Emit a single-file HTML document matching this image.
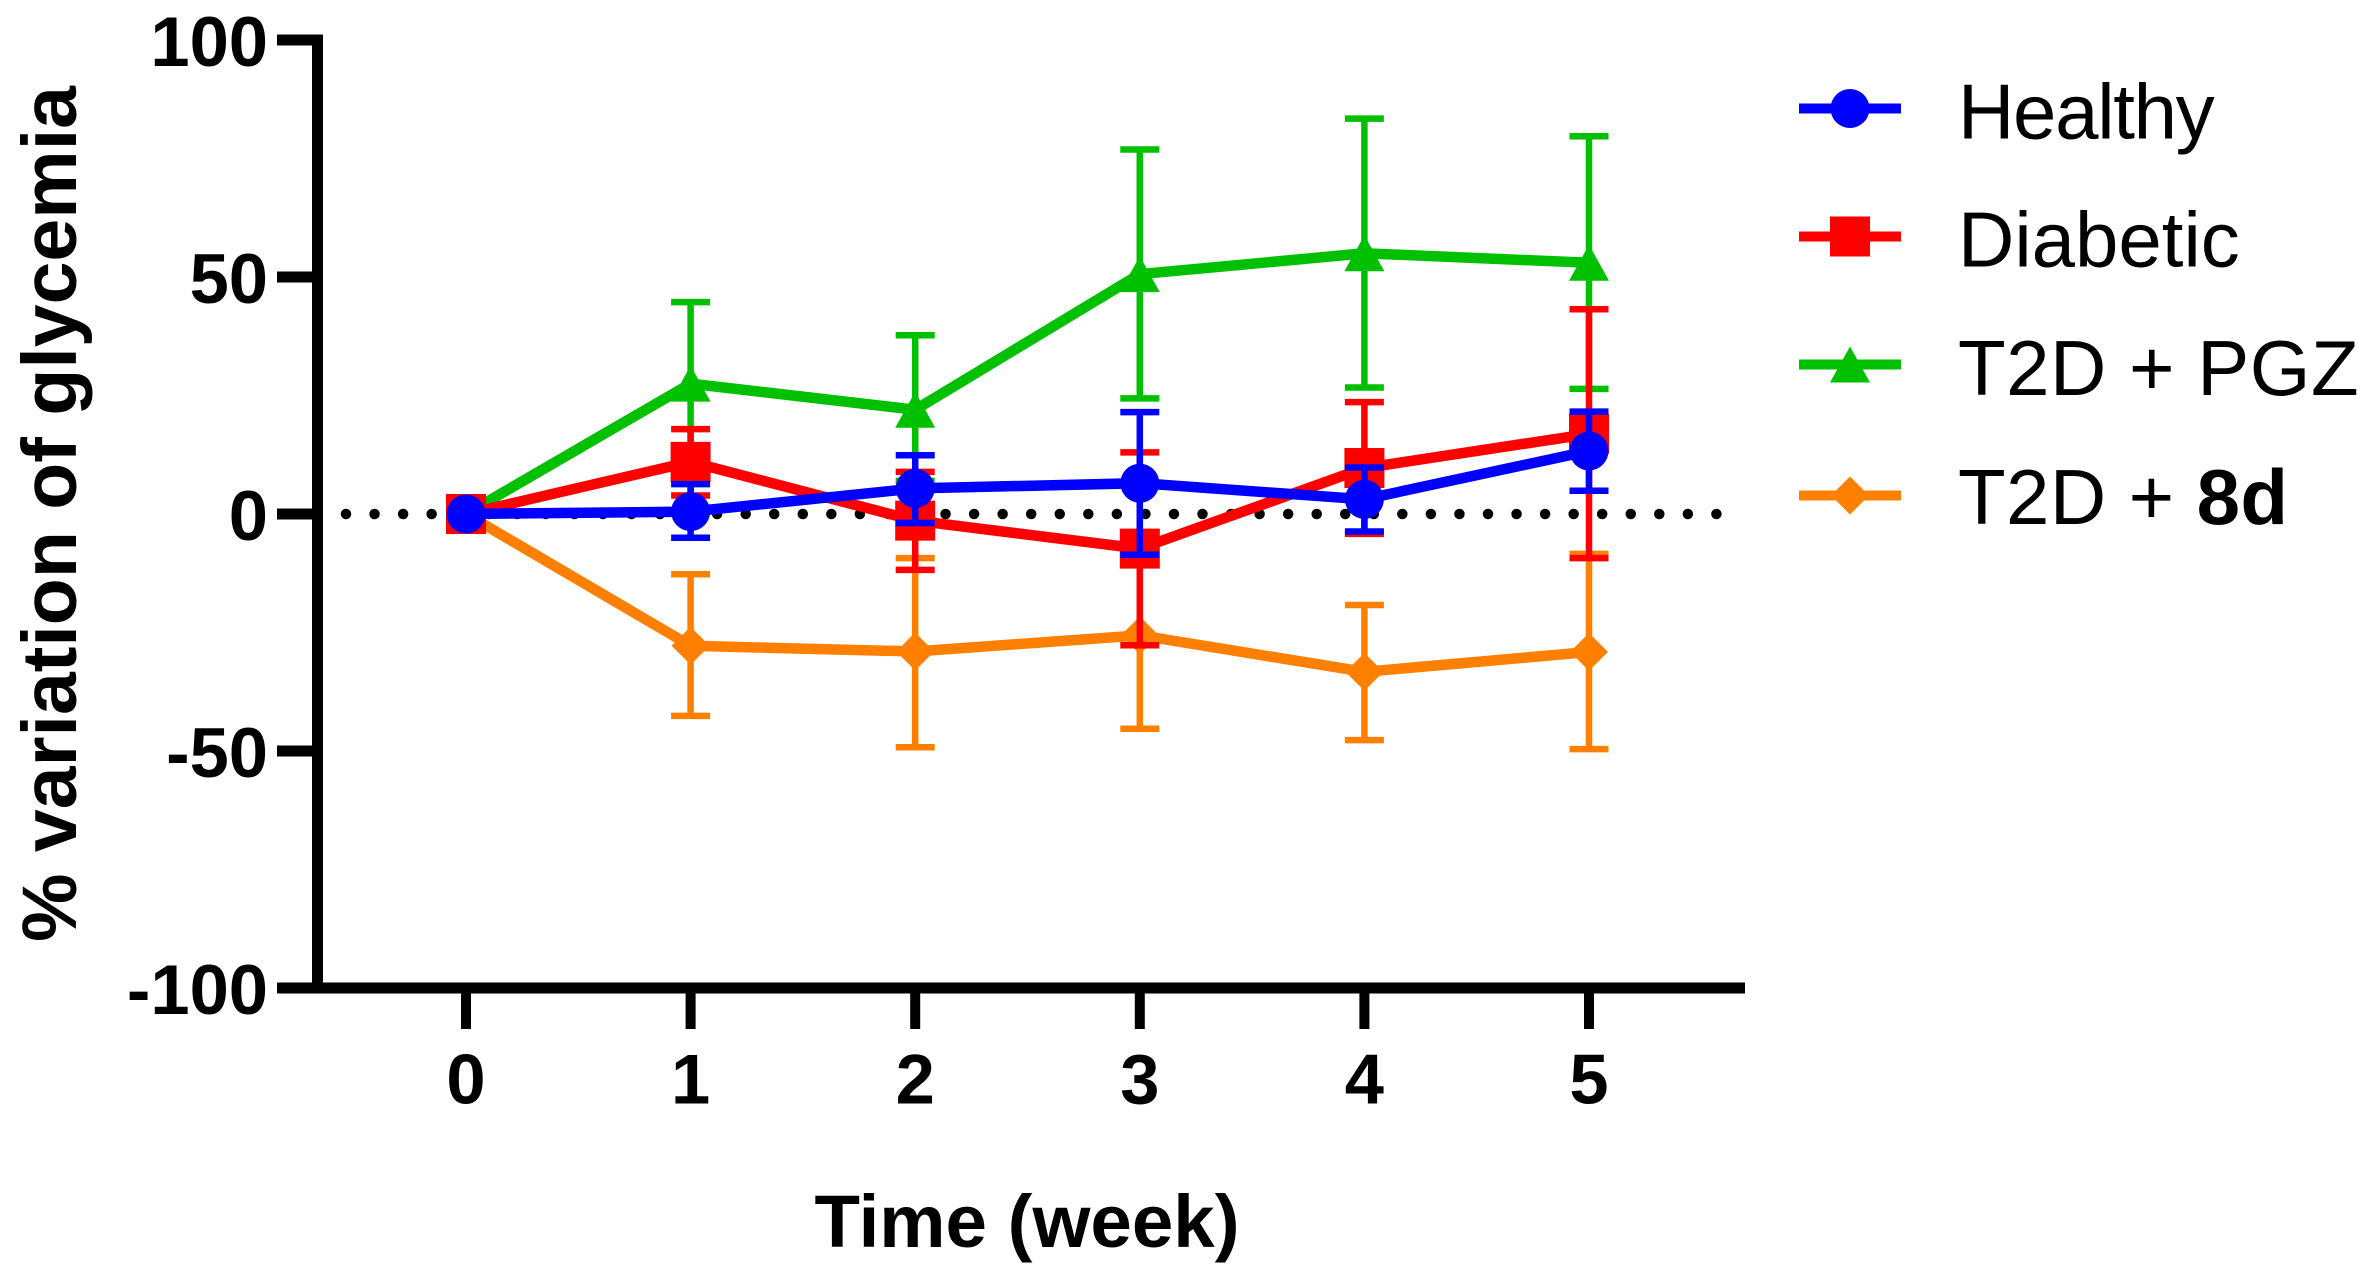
<!DOCTYPE html>
<html lang="en">
<head>
<meta charset="utf-8">
<title>% variation of glycemia over time</title>
<style>
  html, body { margin: 0; padding: 0; background: #ffffff; }
  body { width: 2373px; height: 1277px; overflow: hidden; }
  svg { display: block; }
  text { font-family: "Liberation Sans", Arial, sans-serif; fill: #000000; }
  .tick-label { font-weight: 700; font-size: 70.5px; }
  .axis-title { font-weight: 700; }
  .legend-label { font-size: 78px; font-weight: 400; }
</style>
</head>
<body>
<svg id="chart" xmlns="http://www.w3.org/2000/svg" width="2373" height="1277" viewBox="0 0 2373 1277">
  <rect x="0" y="0" width="2373" height="1277" fill="#ffffff"/>
  <g id="reference-layer"></g>
  <g id="series-layer"></g>
  <g id="axis-layer"></g>
  <text class="axis-title" font-size="77" text-anchor="middle" transform="translate(76 514) rotate(-90)">% variation of glycemia</text>
  <text class="axis-title" font-size="74.5" text-anchor="middle" x="1027" y="1247">Time (week)</text>
  <g id="legend-layer"></g>
  <text class="legend-label" x="1958" y="138.5" letter-spacing="-1.3">Healthy</text>
  <text class="legend-label" x="1958" y="266.5">Diabetic</text>
  <text class="legend-label" x="1958" y="395" letter-spacing="0.5">T2D + PGZ</text>
  <text class="legend-label" x="1958" y="524" letter-spacing="0.4">T2D + <tspan font-weight="700">8d</tspan></text>
</svg>
<script>
// ---- Chart data ----
const weeks = [0, 1, 2, 3, 4, 5];
const yTicks = [100, 50, 0, -50, -100];
const xTickLabels = ['0', '1', '2', '3', '4', '5'];
const yTickLabels = ['100', '50', '0', '-50', '-100'];

const healthyMean  = [0, 0.5, 5.4, 6.5, 3.1, 13.3];
const healthyUpper = [0, 6.3, 12.4, 21.5, 9.8, 21.6];
const healthyLower = [0, -5, -1.9, -8.6, -3.7, 4.9];

const diabeticMean  = [0, 11, -1.4, -7.3, 9.7, 16.9];
const diabeticUpper = [0, 17.9, 8.9, 13, 23.6, 43.2];
const diabeticLower = [0, 3.9, -11.8, -27.7, -4.2, -9.3];

const pgzMean  = [0, 27.5, 22, 50.6, 55, 53];
const pgzUpper = [0, 44.7, 37.7, 76.9, 83.4, 79.7];
const pgzLower = [0, 10.7, 7, 24.4, 26.7, 26.4];

const d8Mean  = [0, -27.8, -29, -25.6, -33.3, -29.1];
const d8Upper = [0, -12.7, -9.3, -5.9, -19.2, -8.4];
const d8Lower = [0, -42.6, -49.2, -45.3, -47.7, -49.6];

// ---- Axis functions ----
const X0 = 466, XSTEP = 224.6;
const Y0 = 514, YUNIT = 4.74;
function xScale(week) { return X0 + XSTEP * week; }
function yScale(value) { return Y0 - YUNIT * value; }

const NS = 'http://www.w3.org/2000/svg';
function make(parent, tag, props) {
  const el = document.createElementNS(NS, tag);
  for (const key in props) el.setAttribute(key, props[key]);
  parent.appendChild(el);
  return el;
}

function drawMarker(parent, shape, cx, cy, color, name) {
  let el;
  if (shape === 'circle') {
    el = make(parent, 'ellipse', { cx: cx, cy: cy, rx: 19.5, ry: 19.5, fill: color });
  } else if (shape === 'square') {
    el = make(parent, 'rect', { x: cx - 20, y: cy - 20, width: 40, height: 40, fill: color });
  } else if (shape === 'triangle') {
    el = make(parent, 'polygon', {
      points: cx + ',' + (cy - 18) + ' ' + (cx + 20) + ',' + (cy + 18) + ' ' + (cx - 20) + ',' + (cy + 18),
      fill: color
    });
  } else {
    el = make(parent, 'polygon', {
      points: cx + ',' + (cy - 19) + ' ' + (cx + 19) + ',' + cy + ' ' + cx + ',' + (cy + 19) + ' ' + (cx - 19) + ',' + cy,
      fill: color
    });
  }
  
  
  return el;
}

function drawSeries(parent, key, color, shape, mean, upper, lower) {
  const group = make(parent, 'g', {});
  
  

  weeks.forEach(function (week, i) {
    if (upper[i] === lower[i]) return;
    const x = xScale(week), top = yScale(upper[i]), bottom = yScale(lower[i]);
    const stem = make(group, 'line', { x1: x, x2: x, y1: top, y2: bottom, stroke: color, 'stroke-width': 6.5 });
    
    
    const capTop = make(group, 'line', { x1: x - 19.5, x2: x + 19.5, y1: top, y2: top, stroke: color, 'stroke-width': 6.5 });
    
    
    const capBottom = make(group, 'line', { x1: x - 19.5, x2: x + 19.5, y1: bottom, y2: bottom, stroke: color, 'stroke-width': 6.5 });
    
    
  });

  const pts = weeks.map(function (week, i) { return xScale(week) + ',' + yScale(mean[i]); }).join(' ');
  const line = make(group, 'polyline', { points: pts, fill: 'none', stroke: color, 'stroke-width': 10.5, 'stroke-linejoin': 'miter' });
  
  

  weeks.forEach(function (week, i) {
    drawMarker(group, shape, xScale(week), yScale(mean[i]), color, key + '-point-week-' + week);
  });
}

// ---- Reference line ----
const refLayer = document.getElementById('reference-layer');
const zeroLine = make(refLayer, 'line', {
  x1: 346, x2: 1718, y1: yScale(0), y2: yScale(0),
  stroke: '#000000', 'stroke-width': 10.5, 'stroke-linecap': 'round', 'stroke-dasharray': '0 28.55'
});



// ---- Series, back to front ----
const seriesLayer = document.getElementById('series-layer');
drawSeries(seriesLayer, 't2d-8d', '#ff8000', 'diamond', d8Mean, d8Upper, d8Lower);
drawSeries(seriesLayer, 't2d-pgz', '#00c000', 'triangle', pgzMean, pgzUpper, pgzLower);
drawSeries(seriesLayer, 'diabetic', '#ff0000', 'square', diabeticMean, diabeticUpper, diabeticLower);
drawSeries(seriesLayer, 'healthy', '#0000ff', 'circle', healthyMean, healthyUpper, healthyLower);

// ---- Axes ----
const axisLayer = document.getElementById('axis-layer');
const yAxis = make(axisLayer, 'line', { x1: 317.5, x2: 317.5, y1: yScale(100) - 5.5, y2: yScale(-100) + 5.5, stroke: '#000', 'stroke-width': 11 });


const xAxis = make(axisLayer, 'line', { x1: 277, x2: 1745, y1: yScale(-100), y2: yScale(-100), stroke: '#000', 'stroke-width': 11 });



yTicks.forEach(function (value, i) {
  const y = yScale(value);
  const tick = make(axisLayer, 'line', { x1: 277, x2: 318, y1: y, y2: y, stroke: '#000', 'stroke-width': 11 });
  
  
  const label = make(axisLayer, 'text', { class: 'tick-label', x: 268, y: y + 26, 'text-anchor': 'end' });
  label.textContent = yTickLabels[i];
  
  
});

weeks.forEach(function (week, i) {
  const x = xScale(week);
  const tick = make(axisLayer, 'line', { x1: x, x2: x, y1: yScale(-100), y2: 1029, stroke: '#000', 'stroke-width': 10 });
  
  
  const label = make(axisLayer, 'text', { class: 'tick-label', x: x, y: 1103.5, 'text-anchor': 'middle' });
  label.textContent = xTickLabels[i];
  
  
});

// ---- Legend swatches ----
const legendLayer = document.getElementById('legend-layer');
const legendKeys = ['healthy', 'diabetic', 't2d-pgz', 't2d-8d'];
const legendColors = ['#0000ff', '#ff0000', '#00c000', '#ff8000'];
const legendShapes = ['circle', 'square', 'triangle', 'diamond'];
const legendRowY = [108.5, 236.5, 364.5, 495.5];

legendKeys.forEach(function (key, i) {
  const swatch = make(legendLayer, 'line', { x1: 1799, x2: 1901, y1: legendRowY[i], y2: legendRowY[i], stroke: legendColors[i], 'stroke-width': 10 });
  
  
  drawMarker(legendLayer, legendShapes[i], 1850, legendRowY[i], legendColors[i], 'legend-marker-' + key);
});
</script>
</body>
</html>
